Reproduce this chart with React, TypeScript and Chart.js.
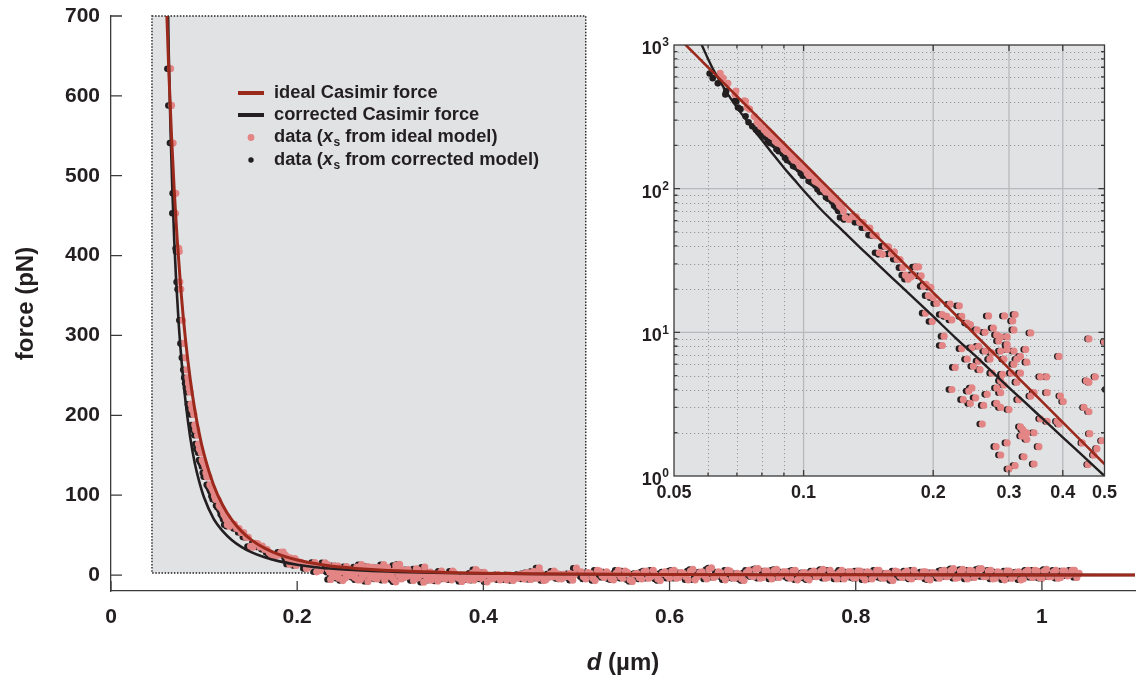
import React, { useEffect, useRef } from "react";
import { Chart, registerables } from "chart.js";

Chart.register(...registerables);

const FONT = "'Liberation Sans', Arial, Helvetica, sans-serif";
const INK = "#231f20";
const AXIS = "#3a3a3a";
const RED = "#9b2a1d";
const PINK = "#e38585";
const PANEL = "#e1e2e4";
const GRID_MAJOR = "#b8b9bb";
const GRID_MINOR = "#98999b";

// ---------- model curves (d in µm, force in pN) ----------
const idealCurveD = [0.050,0.053,0.056,0.059,0.062,0.065,0.068,0.071,0.075,0.080,0.085,0.090,0.095,0.100,0.110,0.120,0.130,0.140,0.150,0.165,0.180,0.200,0.225,0.250,0.280,0.320,0.360,0.400,0.450,0.500,0.600,0.700,0.800,0.900,1.000,1.100];
const idealCurveF = [1208,1014,860,735,634,550,480,422,358,295,246,207,176,151,113.4,87.4,68.7,55.0,44.7,33.6,25.9,18.9,13.3,9.66,6.88,4.61,3.24,2.36,1.66,1.21,0.70,0.44,0.295,0.207,0.151,0.113];
const corrCurveD = [0.056,0.058,0.060,0.062,0.064,0.066,0.068,0.070,0.073,0.076,0.080,0.085,0.090,0.095,0.100,0.110,0.120,0.130,0.140,0.150,0.165,0.180,0.200,0.225,0.250,0.280,0.320,0.360,0.400,0.450,0.500,0.600,0.700,0.800,0.900,1.000,1.100];
const corrCurveF = [1250,1000,800,655,555,478,417,368,310,265,218,173,140,116,97,71,55,43.6,35.3,29.0,22.2,17.4,12.9,9.2,6.9,5.0,3.45,2.49,1.86,1.34,1.0,0.6,0.38,0.26,0.18,0.13,0.1];

// ---------- measured data: near field ----------
const nearDIdeal = [0.0640,0.0650,0.0667,0.0696,0.0693,0.0728,0.0733,0.0739,0.0749,0.0768,0.0780,0.0795,0.0810,
0.0830,0.0850,0.0870,0.0890,0.0910,0.0930,0.0950,0.0970,0.0990,0.1010,0.1030,0.1050,0.1075,0.1100,0.1125,0.1150,0.1175,0.1200,0.1225,0.1250,0.1275,0.1300,0.1325,0.1350,0.1375,0.1400,0.1425,0.1450,0.1475,0.1500,0.1525,0.1550,0.1575,0.1600,0.1625,0.1650,0.1675,0.1700,0.1725,0.1750,0.1775,0.1800,0.1825,0.1850,0.1875,0.1900,0.1925,0.1950,0.1975,0.2000];
const nearDCorr = [0.0605,0.0615,0.0632,0.0661,0.0658,0.0693,0.0698,0.0704,0.0714,0.0733,0.0745,0.0760,0.0775,
0.0795,0.0815,0.0835,0.0855,0.0875,0.0895,0.0915,0.0935,0.0955,0.0975,0.0995,0.1015,0.1040,0.1065,0.1090,0.1115,0.1140,0.1165,0.1190,0.1215,0.1240,0.1265,0.1290,0.1315,0.1340,0.1365,0.1390,0.1415,0.1440,0.1465,0.1490,0.1515,0.1540,0.1565,0.1590,0.1615,0.1640,0.1665,0.1690,0.1715,0.1740,0.1765,0.1790,0.1815,0.1840,0.1865,0.1890,0.1915,0.1940,0.1965];
const nearForce = [634,588,541,478,453,409,405,367,358,319,290,272,257,
240,229,208,201,182,175,158,153,142,136,123,123,111,105,95,94,85,81,74,63,61,64,63.6,58.3,58.1,53.4,53.2,47.5,47.1,35.8,34.9,39.7,39.4,35.1,36.3,32.3,32.1,28.2,25.0,23.4,24.3,25.1,28.5,28.6,24.7,20.9,21.6,18.0,20.6,17.4];

const fillDIdeal = [0.0820,0.0840,0.0860,0.0880,0.0900,0.0920,0.0940,0.0960,0.0980,0.1000,0.1020,0.1040,0.1062,0.1088,0.1112,0.1138,0.1162,0.1188,0.1212,0.1238];
const fillDCorr = [0.0785,0.0805,0.0825,0.0845,0.0865,0.0885,0.0905,0.0925,0.0945,0.0965,0.0985,0.1005,0.1027,0.1053,0.1077,0.1103,0.1127,0.1153,0.1177,0.1203];
const fillForce = [247,234,214,206,188,182,164,157,144,140,128,125,113,108,99,95,87,84,76,70];

// ---------- measured data: scattered region (positive forces) ----------
const midDIdeal = [0.204,0.219,0.230,0.192,0.199,0.210,0.215,0.221,0.233,0.240,
0.244,0.269,0.293,0.310,0.306,0.308,0.253,0.264,0.276,0.281,
0.287,0.297,0.284,0.297,0.337,0.212,0.210,0.233,0.246,0.255,
0.264,0.274,0.287,0.297,0.308,0.328,0.319,0.313,0.330,0.308,
0.292,0.271,0.255,0.240,0.248,0.257,0.225,0.274,0.290,0.304,
0.319,0.355,0.367,0.392,0.287,0.292,0.313,0.281,0.246,0.221,
0.242,0.267,0.287,0.343,0.368,0.395,0.401,0.251,0.235,0.244,
0.262,0.281,0.287,0.300,0.316,0.337,0.355,0.368,0.388,0.392,
0.448,0.460,0.454,0.476,0.460,0.260,0.319,0.323,0.330,0.321,
0.330,0.343,0.352,0.297,0.280,0.287,0.325,0.310,0.300,0.343,
0.460,0.500,0.462,0.493,0.444,0.480,0.472,0.458];
const midDCorr = [0.2005,0.2155,0.2265,0.1885,0.1955,0.2065,0.2115,0.2175,0.2295,0.2365,
0.2405,0.2655,0.2895,0.3065,0.3025,0.3045,0.2495,0.2605,0.2725,0.2775,
0.2835,0.2935,0.2805,0.2935,0.3335,0.2085,0.2065,0.2295,0.2425,0.2515,
0.2605,0.2705,0.2835,0.2935,0.3045,0.3245,0.3155,0.3095,0.3265,0.3045,
0.2885,0.2675,0.2515,0.2365,0.2445,0.2535,0.2215,0.2705,0.2865,0.3005,
0.3155,0.3515,0.3635,0.3885,0.2835,0.2885,0.3095,0.2775,0.2425,0.2175,
0.2385,0.2635,0.2835,0.3395,0.3645,0.3915,0.3975,0.2475,0.2315,0.2405,
0.2585,0.2775,0.2835,0.2965,0.3125,0.3335,0.3515,0.3645,0.3845,0.3885,
0.4445,0.4565,0.4505,0.4725,0.4565,0.2565,0.3155,0.3195,0.3265,0.3175,
0.3265,0.3395,0.3485,0.2935,0.2765,0.2835,0.3215,0.3065,0.2965,0.3395,
0.4565,0.4965,0.4585,0.4895,0.4405,0.4765,0.4685,0.4545];
const midForce = [15.9,15.7,15.3,13.6,11.9,13.3,12.9,12.2,12.9,11.6,
11.3,13.0,13.0,13.3,12.0,10.4,10.4,10.0,10.7,9.6,
9.3,9.3,8.7,8.2,9.9,9.4,8.1,7.7,7.8,8.0,
7.4,7.2,7.4,7.6,7.4,7.6,6.8,6.5,6.2,6.0,
6.5,6.5,6.3,6.5,5.8,5.5,5.7,5.2,5.1,5.2,
5.2,4.9,4.9,6.8,4.6,4.3,4.5,4.1,4.1,4.0,
3.9,3.7,3.8,3.8,3.8,3.6,3.3,3.5,3.4,3.2,
3.1,3.2,3.0,2.9,3.4,3.6,2.5,2.4,2.4,2.3,
3.0,2.8,4.6,4.9,4.5,2.3,2.2,2.1,2.0,1.9,
1.8,2.0,1.6,1.7,1.6,1.4,1.36,1.18,1.12,1.21,
9.0,8.6,1.97,1.76,1.70,1.55,1.40,1.20];

// ---------- measured data: scattered region (low / negative forces) ----------
const lowDIdeal = [0.236,0.241,0.249,0.252,0.258,0.265,0.270,0.276,0.283,0.289,0.294,0.302,0.306,0.312,0.318,0.325,0.330,0.336,0.341,0.347,0.351,0.357,0.362,0.366,0.372,0.377,0.381,0.386,0.390,0.396,0.404,0.409,0.413,0.418,0.423,0.427,0.432,0.437,0.441,0.451,0.456,0.465,0.469,0.478,0.484,0.489,0.496];
const lowDCorr = [0.2325,0.2375,0.2455,0.2485,0.2545,0.2615,0.2665,0.2725,0.2795,0.2855,0.2905,0.2985,0.3025,0.3085,0.3145,0.3215,0.3265,0.3325,0.3375,0.3435,0.3475,0.3535,0.3585,0.3625,0.3685,0.3735,0.3775,0.3825,0.3865,0.3925,0.4005,0.4055,0.4095,0.4145,0.4195,0.4235,0.4285,0.4335,0.4375,0.4475,0.4525,0.4615,0.4655,0.4745,0.4805,0.4855,0.4925];
const lowForce = [-5.5,-2,-7,-3.5,-0.8,-6,-2.5,-8,-4,-1,-6.5,-3,-8.5,-5,-1.8,-7,-3.5,-9,-5.5,-2,-7.5,-4,-0.5,-6,-2.8,-8,-4.5,-1,-6.5,-3,-8.5,-5,-1.5,-6,-3,0.3,-7,-4,-1.2,-5.5,-2.5,-7,-3.5,-0.8,-5,-2,-6.5];

const low2DIdeal = [0.239,0.245,0.255,0.262,0.268,0.273,0.279,0.286,0.291,0.298,0.304,0.309,0.315,0.321,0.327,0.333,0.339,0.344,0.349,0.354,0.359,0.364,0.369,0.374,0.379,0.384,0.388,0.393,0.399,0.402,0.407,0.411,0.416,0.420,0.425,0.430,0.435,0.439,0.444,0.448,0.453,0.458,0.462,0.467,0.471,0.475,0.481,0.486,0.491,0.494,0.498];
const low2DCorr = [0.2355,0.2415,0.2515,0.2585,0.2645,0.2695,0.2755,0.2825,0.2875,0.2945,0.3005,0.3055,0.3115,0.3175,0.3235,0.3295,0.3355,0.3405,0.3455,0.3505,0.3555,0.3605,0.3655,0.3705,0.3755,0.3805,0.3845,0.3895,0.3955,0.3985,0.4035,0.4075,0.4125,0.4165,0.4215,0.4265,0.4315,0.4355,0.4405,0.4445,0.4495,0.4545,0.4585,0.4635,0.4675,0.4715,0.4775,0.4825,0.4875,0.4905,0.4945];
const low2Force = [-1,-4,0.5,-3,-6,0.8,-2,-5,0.4,-1.5,-6,0.6,-3,-0.5,-4.5,0.2,-2.5,-6.5,0.7,-1,-5,-2.5,0.5,-4,-1.5,-6,0.3,-2,-5,0.8,-1,-4,0.4,-2.5,-6,-0.5,-3,0.6,-5,-1.5,0.2,-4,-1,-6,0.5,-2.5,-4.5,0.7,-1,-3.5,0.4];

// ---------- measured data: far field ----------
const farDIdeal = [0.505,0.510,0.515,0.520,0.525,0.530,0.535,0.540,0.545,0.550,
0.555,0.560,0.565,0.570,0.575,0.580,0.585,0.590,0.595,0.600,
0.605,0.610,0.615,0.620,0.625,0.630,0.635,0.640,0.645,0.650,
0.655,0.660,0.665,0.670,0.675,0.680,0.685,0.690,0.695,0.700,
0.705,0.710,0.715,0.720,0.725,0.730,0.735,0.740,0.745,0.750,
0.755,0.760,0.765,0.770,0.775,0.780,0.785,0.790,0.795,0.800,
0.805,0.810,0.815,0.820,0.825,0.830,0.835,0.840,0.845,0.850,
0.855,0.860,0.865,0.870,0.875,0.880,0.885,0.890,0.895,0.900,
0.905,0.910,0.915,0.920,0.925,0.930,0.935,0.940,0.945,0.950,
0.955,0.960,0.965,0.970,0.975,0.980,0.985,0.990,0.995,1.000,
1.005,1.010,1.015,1.020,1.025,1.030,1.035,1.040];
const farDCorr = [0.5015,0.5065,0.5115,0.5165,0.5215,0.5265,0.5315,0.5365,0.5415,0.5465,
0.5515,0.5565,0.5615,0.5665,0.5715,0.5765,0.5815,0.5865,0.5915,0.5965,
0.6015,0.6065,0.6115,0.6165,0.6215,0.6265,0.6315,0.6365,0.6415,0.6465,
0.6515,0.6565,0.6615,0.6665,0.6715,0.6765,0.6815,0.6865,0.6915,0.6965,
0.7015,0.7065,0.7115,0.7165,0.7215,0.7265,0.7315,0.7365,0.7415,0.7465,
0.7515,0.7565,0.7615,0.7665,0.7715,0.7765,0.7815,0.7865,0.7915,0.7965,
0.8015,0.8065,0.8115,0.8165,0.8215,0.8265,0.8315,0.8365,0.8415,0.8465,
0.8515,0.8565,0.8615,0.8665,0.8715,0.8765,0.8815,0.8865,0.8915,0.8965,
0.9015,0.9065,0.9115,0.9165,0.9215,0.9265,0.9315,0.9365,0.9415,0.9465,
0.9515,0.9565,0.9615,0.9665,0.9715,0.9765,0.9815,0.9865,0.9915,0.9965,
1.0015,1.0065,1.0115,1.0165,1.0215,1.0265,1.0315,1.0365];
const farForce = [4,-5,2,-7,5,-3,1,-6,6,-4,
3,-8,2,-5,5,-2,0,-7,4,-4,
6,-3,2,-6,7,-2,4,-5,9,-1,
3,-6,5,-4,1,-7,6,-2,8,-3,
5,-5,7,0,4,-4,6,-2,3,-6,
5,-1,7,-3,2,-5,6,-2,4,-4,
5,-6,3,-1,6,-4,2,-7,4,-3,
5,-5,1,-2,4,-6,2,-4,6,-1,
8,-3,7,-5,5,0,8,-2,6,-4,
3,-6,5,-2,4,-5,6,-3,5,-4,
7,-2,6,-3,5,0,6,2];

const far2DIdeal = [0.5075,0.5125,0.5175,0.5225,0.5275,0.5325,0.5375,0.5425,0.5475,0.5525,
0.5575,0.5625,0.5675,0.5725,0.5775,0.5825,0.5875,0.5925,0.5975,0.6025,
0.6075,0.6125,0.6175,0.6225,0.6275,0.6325,0.6375,0.6425,0.6475,0.6525,
0.6575,0.6625,0.6675,0.6725,0.6775,0.6825,0.6875,0.6925,0.6975,0.7025,
0.7075,0.7125,0.7175,0.7225,0.7275,0.7325,0.7375,0.7425,0.7475,0.7525,
0.7575,0.7625,0.7675,0.7725,0.7775,0.7825,0.7875,0.7925,0.7975,0.8025,
0.8075,0.8125,0.8175,0.8225,0.8275,0.8325,0.8375,0.8425,0.8475,0.8525,
0.8575,0.8625,0.8675,0.8725,0.8775,0.8825,0.8875,0.8925,0.8975,0.9025,
0.9075,0.9125,0.9175,0.9225,0.9275,0.9325,0.9375,0.9425,0.9475,0.9525,
0.9575,0.9625,0.9675,0.9725,0.9775,0.9825,0.9875,0.9925,0.9975,1.0025,
1.0075,1.0125,1.0175,1.0225,1.0275,1.0325,1.0375];
const far2DCorr = [0.5040,0.5090,0.5140,0.5190,0.5240,0.5290,0.5340,0.5390,0.5440,0.5490,
0.5540,0.5590,0.5640,0.5690,0.5740,0.5790,0.5840,0.5890,0.5940,0.5990,
0.6040,0.6090,0.6140,0.6190,0.6240,0.6290,0.6340,0.6390,0.6440,0.6490,
0.6540,0.6590,0.6640,0.6690,0.6740,0.6790,0.6840,0.6890,0.6940,0.6990,
0.7040,0.7090,0.7140,0.7190,0.7240,0.7290,0.7340,0.7390,0.7440,0.7490,
0.7540,0.7590,0.7640,0.7690,0.7740,0.7790,0.7840,0.7890,0.7940,0.7990,
0.8040,0.8090,0.8140,0.8190,0.8240,0.8290,0.8340,0.8390,0.8440,0.8490,
0.8540,0.8590,0.8640,0.8690,0.8740,0.8790,0.8840,0.8890,0.8940,0.8990,
0.9040,0.9090,0.9140,0.9190,0.9240,0.9290,0.9340,0.9390,0.9440,0.9490,
0.9540,0.9590,0.9640,0.9690,0.9740,0.9790,0.9840,0.9890,0.9940,0.9990,
1.0040,1.0090,1.0140,1.0190,1.0240,1.0290,1.0340];
const far2Force = [-2,3,-4,6,-1,4,-5,2,-2,5,
-6,1,-3,4,-4,6,-5,2,-1,5,
-4,3,-2,5,-6,3,-1,7,-3,4,
-2,6,-3,2,-5,3,-1,7,-4,5,
-1,6,-3,4,-2,5,-6,2,-4,3,
-2,5,-4,6,-1,3,-5,4,-3,5,
-2,4,-5,6,-3,2,-4,5,-1,3,
-3,6,-2,4,-5,3,-1,5,-2,6,
-4,5,-1,6,-3,7,-2,5,-5,4,
-2,5,-4,3,-6,4,-1,6,-3,5,
-2,4,-4,5,-1,6,-3];

// ---------- axes / text ----------
const mainXTicks = [0, 0.2, 0.4, 0.6, 0.8, 1];
const mainXLabels = ["0", "0.2", "0.4", "0.6", "0.8", "1"];
const mainYTicks = [0, 100, 200, 300, 400, 500, 600, 700];
const mainYLabels = ["0", "100", "200", "300", "400", "500", "600", "700"];
const zoomBoxD = [0.044, 0.51];
const zoomBoxF = [2.5, 700];
const yTitle = "force (pN)";
const xTitleVar = "d";
const xTitleUnit = " (\u00b5m)";

const insetXTicks = [0.05, 0.1, 0.2, 0.3, 0.4, 0.5];
const insetXLabels = ["0.05", "0.1", "0.2", "0.3", "0.4", "0.5"];
const insetXGrid = [0.1, 0.2, 0.3, 0.4];
const insetXMinor = [0.06, 0.07, 0.08, 0.09];
const insetYMajor = [1, 10, 100, 1000];
const insetYExp = ["0", "1", "2", "3"];
const insetYGrid = [10, 100];
const insetYMinor = [2,3,4,5,6,7,8,9,20,30,40,50,60,70,80,90,200,300,400,500,600,700,800,900];

const legendLineLabels = ["ideal Casimir force", "corrected Casimir force"];
const legendDotPrefix = "data (";
const legendDotVar = "x";
const legendDotSub = "s";
const legendDotSuffixes = [" from ideal model)", " from corrected model)"];

// ---------- helpers ----------
const toPoints = (ds: number[], fs: number[]) => ds.map((d, i) => ({ x: d, y: fs[i] }));
const idealDataD = [...nearDIdeal, ...fillDIdeal, ...midDIdeal, ...lowDIdeal, ...low2DIdeal, ...farDIdeal, ...far2DIdeal];
const corrDataD = [...nearDCorr, ...fillDCorr, ...midDCorr, ...lowDCorr, ...low2DCorr, ...farDCorr, ...far2DCorr];
const dataForce = [...nearForce, ...fillForce, ...midForce, ...lowForce, ...low2Force, ...farForce, ...far2Force];
const insetFilter = (pts: any[]) => pts.filter((p) => p.x >= 0.049 && p.x <= 0.502 && p.y > 0);

const bold = (size: number) => `bold ${size}px ${FONT}`;

const mainDecor = {
  id: "mainDecor",
  beforeDatasetsDraw(chart: any) {
    const { ctx, scales } = chart;
    const x = scales.x, y = scales.y;
    const l = x.getPixelForValue(zoomBoxD[0]);
    const r = x.getPixelForValue(zoomBoxD[1]);
    const t = y.getPixelForValue(zoomBoxF[1]);
    const b = y.getPixelForValue(zoomBoxF[0]);
    ctx.save();
    ctx.fillStyle = PANEL;
    ctx.fillRect(l, t, r - l, b - t);
    ctx.setLineDash([1.5, 1.6]);
    ctx.lineWidth = 1.4;
    ctx.strokeStyle = INK;
    ctx.strokeRect(l, t, r - l, b - t);
    ctx.restore();
  },
  afterDatasetsDraw(chart: any) {
    const { ctx } = chart;
    const rowsY = [93, 115, 137.5, 160];
    const textX = 274;
    ctx.save();
    ctx.lineCap = "butt";
    ctx.lineWidth = 4;
    ctx.strokeStyle = RED;
    ctx.beginPath(); ctx.moveTo(238, rowsY[0]); ctx.lineTo(264, rowsY[0]); ctx.stroke();
    ctx.strokeStyle = INK;
    ctx.beginPath(); ctx.moveTo(238, rowsY[1]); ctx.lineTo(264, rowsY[1]); ctx.stroke();
    ctx.fillStyle = PINK;
    ctx.beginPath(); ctx.arc(251, rowsY[2], 3.4, 0, Math.PI * 2); ctx.fill();
    ctx.fillStyle = INK;
    ctx.beginPath(); ctx.arc(251, rowsY[3], 2.7, 0, Math.PI * 2); ctx.fill();
    ctx.fillStyle = INK;
    ctx.textAlign = "left";
    ctx.textBaseline = "middle";
    ctx.font = bold(18.3);
    ctx.fillText(legendLineLabels[0], textX, rowsY[0]);
    ctx.fillText(legendLineLabels[1], textX, rowsY[1]);
    for (let k = 0; k < 2; k++) {
      const yy = rowsY[2 + k] - 0.5;
      let cx = textX;
      ctx.font = bold(18.3);
      ctx.fillText(legendDotPrefix, cx, yy);
      cx += ctx.measureText(legendDotPrefix).width;
      ctx.font = `italic bold 18.3px ${FONT}`;
      ctx.fillText(legendDotVar, cx, yy);
      cx += ctx.measureText(legendDotVar).width + 0.5;
      ctx.font = bold(12);
      ctx.fillText(legendDotSub, cx, yy + 6);
      cx += ctx.measureText(legendDotSub).width;
      ctx.font = bold(18.3);
      ctx.fillText(legendDotSuffixes[k], cx, yy);
    }
    ctx.restore();
  },
  afterDraw(chart: any) {
    const { ctx, chartArea: a, scales } = chart;
    const x = scales.x, y = scales.y;
    ctx.save();
    ctx.strokeStyle = AXIS;
    ctx.lineWidth = 1.3;
    ctx.beginPath();
    for (const v of mainXTicks) {
      const px = x.getPixelForValue(v);
      ctx.moveTo(px, a.bottom);
      ctx.lineTo(px, a.bottom - 10);
    }
    for (const v of mainYTicks) {
      const py = y.getPixelForValue(v);
      ctx.moveTo(a.left, py);
      ctx.lineTo(a.left + 11, py);
    }
    ctx.stroke();
    ctx.fillStyle = INK;
    ctx.textBaseline = "middle";
    ctx.textAlign = "center";
    ctx.save();
    ctx.font = bold(24);
    ctx.translate(26, (a.top + a.bottom) / 2);
    ctx.rotate(-Math.PI / 2);
    ctx.fillText(yTitle, 0, 0);
    ctx.restore();
    ctx.textAlign = "left";
    ctx.font = `italic bold 24px ${FONT}`;
    const w1 = ctx.measureText(xTitleVar).width;
    ctx.font = bold(24);
    const w2 = ctx.measureText(xTitleUnit).width;
    const sx = (a.left + a.right) / 2 - (w1 + w2) / 2;
    const ty = 663;
    ctx.font = `italic bold 24px ${FONT}`;
    ctx.fillText(xTitleVar, sx, ty);
    ctx.font = bold(24);
    ctx.fillText(xTitleUnit, sx + w1, ty);
    ctx.restore();
  },
};

const insetDecor = {
  id: "insetDecor",
  beforeDatasetsDraw(chart: any) {
    const { ctx, chartArea: a, scales } = chart;
    const x = scales.x, y = scales.y;
    ctx.save();
    ctx.fillStyle = PANEL;
    ctx.fillRect(a.left, a.top, a.right - a.left, a.bottom - a.top);
    ctx.lineWidth = 1;
    ctx.strokeStyle = GRID_MINOR;
    ctx.setLineDash([1.2, 2.8]);
    ctx.beginPath();
    for (const v of insetXMinor) {
      const px = Math.round(x.getPixelForValue(v)) + 0.5;
      ctx.moveTo(px, a.top); ctx.lineTo(px, a.bottom);
    }
    for (const v of insetYMinor) {
      const py = Math.round(y.getPixelForValue(v)) + 0.5;
      ctx.moveTo(a.left, py); ctx.lineTo(a.right, py);
    }
    ctx.stroke();
    ctx.setLineDash([]);
    ctx.strokeStyle = GRID_MAJOR;
    ctx.lineWidth = 1.3;
    ctx.beginPath();
    for (const v of insetXGrid) {
      const px = x.getPixelForValue(v);
      ctx.moveTo(px, a.top); ctx.lineTo(px, a.bottom);
    }
    for (const v of insetYGrid) {
      const py = y.getPixelForValue(v);
      ctx.moveTo(a.left, py); ctx.lineTo(a.right, py);
    }
    ctx.stroke();
    ctx.restore();
  },
  afterDatasetsDraw(chart: any) {
    const { ctx, chartArea: a, scales } = chart;
    const x = scales.x, y = scales.y;
    ctx.save();
    ctx.strokeStyle = AXIS;
    ctx.lineWidth = 1.3;
    ctx.strokeRect(a.left, a.top, a.right - a.left, a.bottom - a.top);
    ctx.beginPath();
    const xt = (vals: number[], len: number) => {
      for (const v of vals) {
        const px = x.getPixelForValue(v);
        ctx.moveTo(px, a.bottom); ctx.lineTo(px, a.bottom - len);
        ctx.moveTo(px, a.top); ctx.lineTo(px, a.top + len);
      }
    };
    const yt = (vals: number[], len: number) => {
      for (const v of vals) {
        const py = y.getPixelForValue(v);
        ctx.moveTo(a.left, py); ctx.lineTo(a.left + len, py);
        ctx.moveTo(a.right, py); ctx.lineTo(a.right - len, py);
      }
    };
    xt(insetXGrid, 6); xt(insetXMinor, 3.5);
    yt(insetYGrid, 6); yt(insetYMinor, 3.5);
    ctx.stroke();
    ctx.fillStyle = INK;
    ctx.textAlign = "right";
    ctx.textBaseline = "middle";
    for (let i = 0; i < insetYMajor.length; i++) {
      const py = y.getPixelForValue(insetYMajor[i]);
      ctx.font = bold(12);
      const we = ctx.measureText(insetYExp[i]).width;
      ctx.fillText(insetYExp[i], a.left - 5, py - 2);
      ctx.font = bold(18);
      ctx.fillText("10", a.left - 5 - we - 0.5, py + 4);
    }
    ctx.restore();
  },
};

function datasets(filter: (p: any[]) => any[], big: boolean) {
  return [
    { type: "line", data: filter(toPoints(idealCurveD, idealCurveF)), borderColor: RED, borderWidth: big ? 3 : 2.6, pointRadius: 0, fill: false, cubicInterpolationMode: "monotone", order: 0 },
    { type: "line", data: filter(toPoints(corrCurveD, corrCurveF)), borderColor: INK, borderWidth: big ? 2.6 : 2.4, pointRadius: 0, fill: false, cubicInterpolationMode: "monotone", order: 1 },
    { type: "scatter", data: filter(toPoints(idealDataD, dataForce)), pointRadius: big ? 3.6 : 3.6, pointBackgroundColor: PINK, backgroundColor: PINK, borderColor: PINK, pointBorderWidth: 0, order: 2 },
    { type: "scatter", data: filter(toPoints(corrDataD, dataForce)), pointRadius: big ? 3.2 : 3.3, pointBackgroundColor: INK, backgroundColor: INK, borderColor: INK, pointBorderWidth: 0, order: 3 },
  ];
}

function mainConfig(): any {
  return {
    type: "scatter",
    data: { datasets: datasets((p) => p, true) },
    options: {
      responsive: false,
      animation: false,
      devicePixelRatio: 1,
      events: [],
      layout: { padding: { top: 16, right: 0, bottom: 0, left: 0 } },
      plugins: { legend: { display: false }, tooltip: { enabled: false } },
      scales: {
        x: {
          type: "linear", position: "bottom", min: 0, max: 1.1,
          grid: { display: false, drawTicks: false },
          border: { display: true, color: AXIS, width: 1.3 },
          ticks: { color: INK, font: { family: FONT, size: 21, weight: "bold" }, padding: 14, maxRotation: 0, autoSkip: false, callback: (_v: any, i: number) => mainXLabels[i] },
          afterBuildTicks: (s: any) => { s.ticks = mainXTicks.map((v) => ({ value: v })); },
          afterFit: (s: any) => { s.height = 90; s.paddingLeft = 0; s.paddingRight = 0; },
        },
        y: {
          type: "linear", position: "left", min: -20, max: 700,
          grid: { display: false, drawTicks: false },
          border: { display: true, color: AXIS, width: 1.3 },
          ticks: { color: INK, font: { family: FONT, size: 21, weight: "bold" }, padding: 11, autoSkip: false, callback: (_v: any, i: number) => mainYLabels[i] },
          afterBuildTicks: (s: any) => { s.ticks = mainYTicks.map((v) => ({ value: v })); },
          afterFit: (s: any) => { s.width = 111; s.paddingTop = 0; s.paddingBottom = 0; },
        },
      },
    },
    plugins: [mainDecor],
  };
}

function insetConfig(): any {
  return {
    type: "scatter",
    data: { datasets: datasets(insetFilter, false) },
    options: {
      responsive: false,
      animation: false,
      devicePixelRatio: 1,
      events: [],
      layout: { padding: { top: 15, right: 34.5, bottom: 0, left: 0 } },
      plugins: { legend: { display: false }, tooltip: { enabled: false } },
      scales: {
        x: {
          type: "logarithmic", position: "bottom", min: 0.05, max: 0.5,
          grid: { display: false, drawTicks: false },
          border: { display: false },
          ticks: { color: INK, font: { family: FONT, size: 18, weight: "bold" }, padding: 6, maxRotation: 0, autoSkip: false, callback: (_v: any, i: number) => insetXLabels[i] },
          afterBuildTicks: (s: any) => { s.ticks = insetXTicks.map((v) => ({ value: v })); },
          afterFit: (s: any) => { s.height = 44; s.paddingLeft = 0; s.paddingRight = 0; },
        },
        y: {
          type: "logarithmic", position: "left", min: 1, max: 1000,
          grid: { display: false, drawTicks: false },
          border: { display: false },
          ticks: { display: false },
          afterFit: (s: any) => { s.width = 64; s.paddingTop = 0; s.paddingBottom = 0; },
        },
      },
    },
    plugins: [insetDecor],
  };
}

export default function App() {
  const mainRef = useRef<HTMLCanvasElement>(null);
  const insetRef = useRef<HTMLCanvasElement>(null);
  useEffect(() => {
    const main = new Chart(mainRef.current as HTMLCanvasElement, mainConfig());
    const inset = new Chart(insetRef.current as HTMLCanvasElement, insetConfig());
    return () => {
      main.destroy();
      inset.destroy();
    };
  }, []);
  return (
    <div style={{ position: "fixed", left: 0, top: 0, width: 1139, height: 681, background: "#ffffff" }}>
      <canvas ref={mainRef} width={1139} height={681} style={{ position: "absolute", left: 0, top: 0, width: 1139, height: 681 }} />
      <canvas ref={insetRef} width={529} height={490} style={{ position: "absolute", left: 610, top: 30, width: 529, height: 490 }} />
    </div>
  );
}
